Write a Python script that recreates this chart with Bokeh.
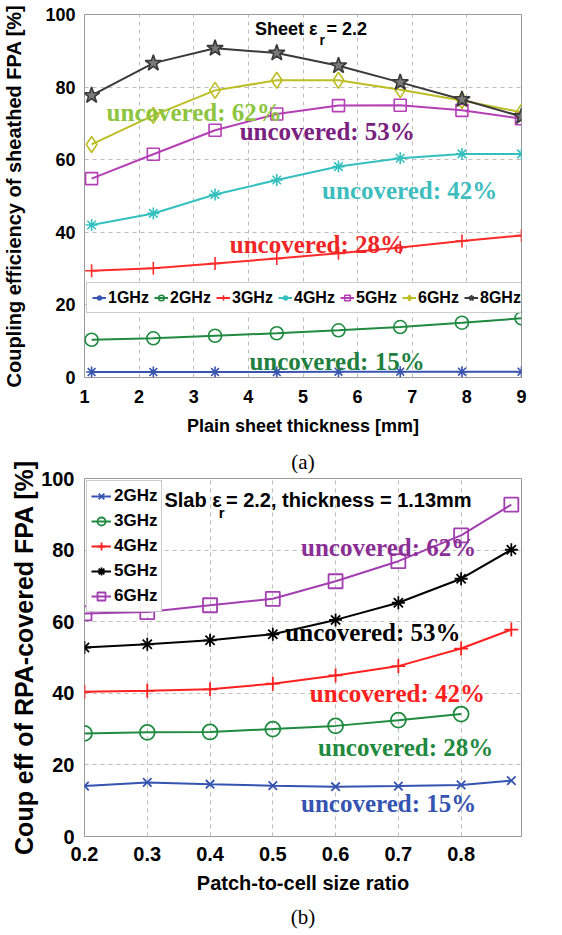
from bokeh.plotting import figure
from bokeh.models import FixedTicker, Label, Legend, LegendItem, Range1d, Title
from bokeh.layouts import column
from bokeh.embed import file_html
from bokeh.resources import INLINE

# ---------------- data: (a) plain sheet ----------------
thickness_mm = [1.13, 2.26, 3.39, 4.52, 5.65, 6.78, 7.91, 9.0]
eff_1ghz = [1.5, 1.5, 1.5, 1.5, 1.6, 1.6, 1.6, 1.6]
eff_2ghz = [10.4, 10.8, 11.5, 12.2, 13.0, 13.9, 15.1, 16.3]
eff_3ghz = [29.4, 30.1, 31.4, 32.8, 34.2, 35.8, 37.6, 39.1]
eff_4ghz = [42.0, 45.2, 50.4, 54.4, 58.1, 60.4, 61.6, 61.6]
eff_5ghz = [54.8, 61.5, 68.1, 72.6, 74.9, 75.0, 73.6, 71.3]
eff_6ghz = [64.2, 72.2, 79.1, 81.9, 81.9, 79.3, 76.3, 73.1]
eff_8ghz = [77.7, 86.6, 90.7, 89.4, 85.9, 81.3, 76.6, 71.9]
x_ticks_a = [1, 2, 3, 4, 5, 6, 7, 8, 9]
y_ticks = [0, 20, 40, 60, 80, 100]

# ---------------- data: (b) RPA covered ----------------
ratio = [0.2, 0.3, 0.4, 0.5, 0.6, 0.7, 0.8, 0.88]
ratio_3ghz = [0.2, 0.3, 0.4, 0.5, 0.6, 0.7, 0.8]
rpa_2ghz = [14.1, 15.1, 14.6, 14.2, 13.9, 14.1, 14.4, 15.6]
rpa_3ghz = [28.8, 29.1, 29.2, 30.0, 30.9, 32.5, 34.2]
rpa_4ghz = [40.4, 40.7, 41.1, 42.7, 45.0, 47.6, 52.5, 57.8]
rpa_5ghz = [52.8, 53.7, 54.8, 56.5, 60.5, 65.3, 72.0, 80.1]
rpa_6ghz = [62.3, 62.7, 64.6, 66.4, 71.3, 76.9, 84.1, 92.7]
x_ticks_b = [0.2, 0.3, 0.4, 0.5, 0.6, 0.7, 0.8]

SANS = "Liberation Sans"
SERIF = "Liberation Serif"


def style_axes(p, size, ystand, xstand):
    for ax in (p.xaxis[0], p.yaxis[0]):
        ax.axis_line_color = None
        ax.major_tick_line_color = None
        ax.minor_tick_line_color = None
        ax.major_label_text_font = SANS
        ax.major_label_text_font_size = size
        ax.major_label_text_font_style = "bold"
        ax.major_label_text_color = "black"
        ax.axis_label_text_font = SANS
        ax.axis_label_text_font_style = "bold"
        ax.axis_label_text_color = "black"
    p.yaxis[0].major_label_standoff = ystand
    p.xaxis[0].major_label_standoff = xstand
    p.grid.grid_line_color = "#bdbdbd"
    p.grid.grid_line_dash = "4 4"
    p.grid.grid_line_width = 1
    p.outline_line_color = "#9a9a9a"
    p.outline_line_width = 1
    p.background_fill_color = "white"
    p.border_fill_color = "white"


# ======================= (a) =======================
p1 = figure(width=562, height=442, x_range=Range1d(1, 9), y_range=Range1d(0, 100),
            output_backend="svg", toolbar_location=None,
            min_border_left=80, min_border_right=41, min_border_top=14, min_border_bottom=65)
p1.xaxis.ticker = FixedTicker(ticks=x_ticks_a)
p1.yaxis.ticker = FixedTicker(ticks=y_ticks)
style_axes(p1, "18px", 3, 6)
p1.xaxis.axis_label = "Plain sheet thickness [mm]"
p1.xaxis.axis_label_text_font_size = "18px"
p1.xaxis.axis_label_standoff = 10
p1.yaxis.axis_label = "Coupling efficiency of sheathed FPA [%]"
p1.yaxis.axis_label_text_font_size = "20px"
p1.yaxis.axis_label_standoff = 17

series_a = [
    ("1GHz", eff_1ghz, "#3a55b0", "asterisk", 11, None),
    ("2GHz", eff_2ghz, "#1f8a40", "circle", 13, None),
    ("3GHz", eff_3ghz, "#ff2a2a", "cross", 13, None),
    ("4GHz", eff_4ghz, "#35c0c0", "asterisk", 12, None),
    ("5GHz", eff_5ghz, "#b53fb5", "square", 12, None),
    ("6GHz", eff_6ghz, "#bdbd25", "diamond", 16, None),
    ("8GHz", eff_8ghz, "#3a3a3a", "star", 17, "#7a7a7a"),
]
items_a = []
for name, ys, col, mk, sz, fill in series_a:
    rl = p1.line(thickness_mm, ys, line_color=col, line_width=2)
    rm = p1.scatter(thickness_mm, ys, marker=mk, size=sz, line_color=col,
                    fill_color=fill, line_width=1.6)
    items_a.append(LegendItem(label=name, renderers=[rl, rm]))

leg_a = Legend(items=items_a, orientation="horizontal", location=(2, 64),
               margin=0, padding=5, spacing=4, glyph_width=14, glyph_height=19,
               label_width=42, label_height=19, label_standoff=2,
               label_text_font=SANS, label_text_font_size="16px",
               label_text_font_style="bold", label_text_color="black",
               border_line_color="#9a9a9a", background_fill_color="white",
               background_fill_alpha=0.9)
p1.add_layout(leg_a)

ann_a = [
    ("uncovered: 62%", 1.405, 72.9, "#8dc540"),
    ("uncovered: 53%", 3.84, 67.7, "#7a2180"),
    ("uncovered: 42%", 5.35, 51.6, "#3dbdbd"),
    ("uncovered: 28%", 3.66, 36.7, "#f02525"),
    ("uncovered: 15%", 4.02, 4.4, "#1f7f3f"),
]
for txt, xx, yy, col in ann_a:
    p1.add_layout(Label(x=xx, y=yy, text=txt, text_font=SERIF, text_font_size="25px",
                        text_font_style="bold", text_color=col,
                        text_align="left", text_baseline="alphabetic"))

p1.add_layout(Label(x=4.12, y=96.0, text="Sheet \u03b5", text_font=SANS, text_font_size="18px",
                    text_font_style="bold", text_color="black", text_baseline="middle"))
p1.add_layout(Label(x=5.30, y=93.0, text="r", text_font=SANS, text_font_size="14px",
                    text_font_style="bold", text_color="black", text_baseline="middle"))
p1.add_layout(Label(x=5.43, y=96.0, text="= 2.2", text_font=SANS, text_font_size="18px",
                    text_font_style="bold", text_color="black", text_baseline="middle"))

# ======================= (b) =======================
p2 = figure(width=562, height=493, x_range=Range1d(0.2, 0.8962), y_range=Range1d(0, 100),
            output_backend="svg", toolbar_location=None,
            min_border_left=81, min_border_right=2, min_border_top=36, min_border_bottom=99)
p2.xaxis.ticker = FixedTicker(ticks=x_ticks_b)
p2.yaxis.ticker = FixedTicker(ticks=y_ticks)
style_axes(p2, "20px", 4, 4)
p2.xaxis.axis_label = "Patch-to-cell size ratio"
p2.xaxis.axis_label_text_font_size = "20px"
p2.xaxis.axis_label_standoff = 8
p2.yaxis.axis_label = "Coup eff of RPA-covered FPA [%]"
p2.yaxis.axis_label_text_font_size = "25px"
p2.yaxis.axis_label_standoff = 0

# caption of panel (a), sitting between the two panels
p2.add_layout(Title(text="(a)", align="center", text_font=SERIF, text_font_size="21px",
                    text_font_style="normal", text_color="black", standoff=9), "above")

series_b = [
    ("2GHz", ratio, rpa_2ghz, "#3553b0", "x", 12),
    ("3GHz", ratio_3ghz, rpa_3ghz, "#1f8a40", "circle", 15),
    ("4GHz", ratio, rpa_4ghz, "#ff2020", "cross", 14),
    ("5GHz", ratio, rpa_5ghz, "#000000", "asterisk", 13),
    ("6GHz", ratio, rpa_6ghz, "#a23fb0", "square", 14),
]
items_b = []
for name, xs, ys, col, mk, sz in series_b:
    rl = p2.line(xs, ys, line_color=col, line_width=2)
    rm = p2.scatter(xs, ys, marker=mk, size=sz, line_color=col, fill_color=None, line_width=1.8)
    items_b.append(LegendItem(label=name, renderers=[rl, rm]))

leg_b = Legend(items=items_b, location="top_left", margin=2, padding=4, spacing=3,
               glyph_width=20, glyph_height=22, label_width=42, label_height=22,
               label_standoff=3, label_text_font=SANS, label_text_font_size="17px",
               label_text_font_style="bold", label_text_color="black",
               border_line_color="#9a9a9a", background_fill_color="white",
               background_fill_alpha=0.95)
p2.add_layout(leg_b)

ann_b = [
    ("uncovered: 62%", 0.545, 80.8, "#8a2f95"),
    ("uncovered: 53%", 0.52, 57.1, "#000000"),
    ("uncovered: 42%", 0.559, 40.0, "#ff2020"),
    ("uncovered: 28%", 0.572, 25.0, "#1f8a40"),
    ("uncovered: 15%", 0.545, 9.3, "#3553b0"),
]
for txt, xx, yy, col in ann_b:
    p2.add_layout(Label(x=xx, y=yy, text=txt, text_font=SERIF, text_font_size="25px",
                        text_font_style="bold", text_color=col,
                        text_align="left", text_baseline="alphabetic"))

p2.add_layout(Label(x=0.3273, y=94.1, text="Slab \u03b5", text_font=SANS, text_font_size="20px",
                    text_font_style="bold", text_color="black", text_baseline="middle"))
p2.add_layout(Label(x=0.4137, y=90.6, text="r", text_font=SANS, text_font_size="15px",
                    text_font_style="bold", text_color="black", text_baseline="middle"))
p2.add_layout(Label(x=0.4253, y=94.1, text="= 2.2, thickness = 1.13mm", text_font=SANS,
                    text_font_size="20px", text_font_style="bold", text_color="black",
                    text_baseline="middle"))

p2.add_layout(Title(text="(b)", align="center", text_font=SERIF, text_font_size="21px",
                    text_font_style="normal", text_color="black", standoff=13), "below")

layout = column(p1, p2, spacing=0)
open("out.html", "w").write(file_html(layout, INLINE))
